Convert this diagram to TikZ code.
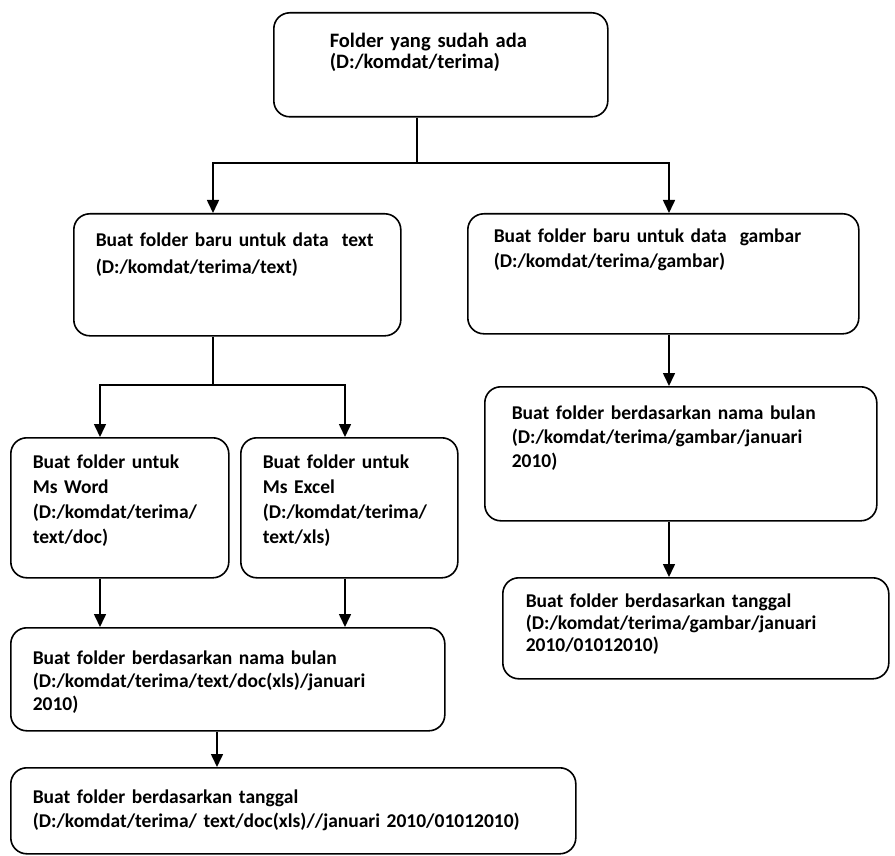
\documentclass[tikz,border=0pt]{standalone}
\usepackage{fontspec}
\setmainfont{Carlito}
\usepackage{tikz}
\usetikzlibrary{arrows.meta,positioning}

\tikzset{
  flowbox/.style={draw,line width=1.6pt,rounded corners=16pt,anchor=north west,
    align=left,inner xsep=22pt,inner ysep=0pt,text height=33pt,lead=26},
  lead/.style={font=\fontsize{19.5}{#1}\selectfont\bfseries},
  link/.style={line width=1.6pt},
  linkarr/.style={line width=1.6pt,-{Triangle[width=12pt,length=13pt]}}
}

\begin{document}
\begin{tikzpicture}[x=1pt,y=-1pt]
        \useasboundingbox (0,0) rectangle (895,856);
        % boxes
        \node[flowbox,inner xsep=56pt,text width=222pt,text height=35pt,text depth=69pt,
          font=\fontsize{20.5}{21}\selectfont\bfseries] (top) at (273,12)
          {Folder yang sudah ada\\(D:/komdat/terima)};
        \node[flowbox,lead=27,text width=283pt,text depth=89pt] (textb) at (73,213)
          {Buat folder baru untuk data~ text\\(D:/komdat/terima/text)};
        \node[flowbox,lead=25,inner xsep=26pt,text width=339pt,text height=29pt,text depth=91pt] (gambar) at (467,213)
          {Buat folder baru untuk data~ gambar\\(D:/komdat/terima/gambar)};
        \node[flowbox,lead=25,text width=174pt,text height=31pt,text depth=109pt] (word) at (10,437)
          {Buat folder untuk\\Ms Word\\(D:/komdat/terima/\\text/doc)};
        \node[flowbox,lead=25,text width=173pt,text height=31pt,text depth=109pt] (excel) at (240,437)
          {Buat folder untuk\\Ms Excel\\(D:/komdat/terima/\\text/xls)};
        \node[flowbox,lead=23,inner xsep=22pt,text width=390pt,text height=37pt,text depth=66pt] (bulanT) at (10,627)
          {Buat folder berdasarkan nama bulan\\(D:/komdat/terima/text/doc(xls)/januari\\2010)};
        \node[flowbox,lead=24,inner xsep=22pt,text width=521pt,text height=36pt,text depth=50pt] (tglT) at (10,767)
          {Buat folder berdasarkan tanggal\\(D:/komdat/terima/ text/doc(xls)//januari 2010/01012010)};
        \node[flowbox,lead=24,inner xsep=27pt,text width=338pt,text depth=101pt] (bulanG) at (484,386)
          {Buat folder berdasarkan nama bulan\\(D:/komdat/terima/gambar/januari\\2010)};
        \node[flowbox,lead=22,inner xsep=23pt,text width=340pt,text height=30pt,text depth=71pt] (tglG) at (502,577)
          {Buat folder berdasarkan tanggal\\(D:/komdat/terima/gambar/januari\\2010/01012010)};
        % junctions and columns
        \coordinate (split1) at (417,163);
        \coordinate (split2) at (213,385);
        \coordinate (colW) at (100,0);
        \coordinate (colE) at (345,0);
        \coordinate (colB) at (217,0);
        \coordinate (colR) at (669,0);
        % connectors
        \draw[link] (top.south -| split1) -- (split1);
        \draw[linkarr] (split1) -| (textb.north -| split2);
        \draw[linkarr] (split1) -| (gambar.north -| colR);
        \draw[link] (textb.south -| split2) -- (split2);
        \draw[linkarr] (split2) -| (word.north -| colW);
        \draw[linkarr] (split2) -| (excel.north -| colE);
        \draw[linkarr] (word.south -| colW) -- (bulanT.north -| colW);
        \draw[linkarr] (excel.south -| colE) -- (bulanT.north -| colE);
        \draw[linkarr] (bulanT.south -| colB) -- (tglT.north -| colB);
        \draw[linkarr] (gambar.south -| colR) -- (bulanG.north -| colR);
        \draw[linkarr] (bulanG.south -| colR) -- (tglG.north -| colR);
      \end{tikzpicture}
\end{document}
